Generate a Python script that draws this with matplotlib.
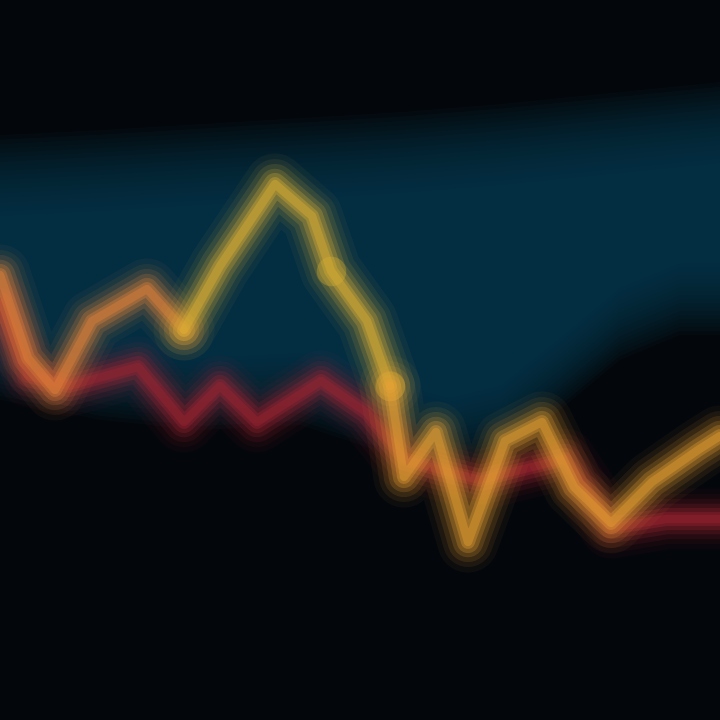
import numpy as np
import matplotlib.pyplot as plt

## Données (axe vertical vers le haut)
x_gold = [0, 28, 55, 92, 147, 184, 220, 275, 312, 331, 367, 390, 404, 436, 468, 505, 542, 574, 611, 652, 698, 720]
v_gold = [445, 362, 330, 399, 431, 390, 454, 536, 504, 449, 399, 334, 243, 288, 178, 279, 298, 233, 197, 238, 270, 284]

x_red = [0, 28, 69, 138, 184, 220, 257, 321, 367, 404, 440, 480, 520, 565, 611, 666, 720]
v_red = [417, 344, 334, 353, 298, 334, 298, 339, 307, 261, 250, 240, 250, 261, 192, 201, 201]

x_band = [0, 100, 200, 300, 400, 450, 500, 560, 620, 680, 720]
band_top = [585, 590, 596, 602, 608, 612, 616, 622, 628, 634, 638]
band_low = [320, 300, 290, 295, 262, 250, 262, 310, 360, 385, 385]

## Découpage couleur de la ligne dorée (indices de début/fin)
gold_parts = [(0, 6, '#e4843a'), (5, 12, '#e0b234'), (11, 22, '#e8a234')]

## Figure
fig = plt.figure(figsize=(7.2, 7.2), dpi=100, facecolor='#03060b')
ax = fig.add_axes([0, 0, 1, 1])
ax.set_facecolor('#03060b')
ax.set_xlim(0, 720)
ax.set_ylim(0, 720)
ax.axis('off')

## Bande bleu-vert, bords adoucis par superposition
top = np.array(band_top)
low = np.array(band_low)
for k in range(20):
    ax.fill_between(x_band, low + k * 4, top - k * 4.5, color='#0b4058',
                    alpha=0.075, lw=0)


## Lignes floues : plusieurs épaisseurs transparentes
def glow(xs, vs, color):
    for lw, a in [(44, 0.05), (36, 0.08), (29, 0.12), (22, 0.18), (16, 0.26), (10, 0.34), (6, 0.4)]:
        ax.plot(xs, vs, color=color, lw=lw, alpha=a,
                solid_capstyle='round', solid_joinstyle='round')


glow(x_red, v_red, '#a02432')
for i0, i1, col in gold_parts:
    glow(x_gold[i0:i1], v_gold[i0:i1], col)

## Points lumineux
ax.scatter([331, 390], [449, 334], s=450, color='#eec22c', alpha=0.3, lw=0)

plt.savefig('out.png', dpi=100, facecolor=fig.get_facecolor())
